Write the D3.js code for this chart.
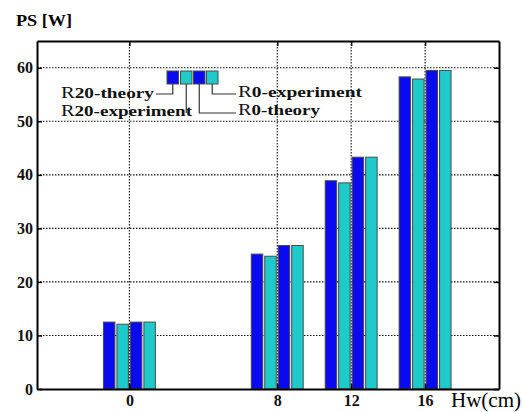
<!DOCTYPE html>
<html>
<head>
<meta charset="utf-8">
<script src="https://cdn.jsdelivr.net/npm/d3@7"></script>
<style>
  body { margin: 0; background: #fff; }
  svg text { font-family: "Liberation Serif", "Times New Roman", serif; }
</style>
</head>
<body>
<div id="chart"></div>
<script>
// chart values
const hw = [0, 8, 12, 16];
const series = ["R20-theory", "R20-experiment", "R0-theory", "R0-experiment"];
const r20Theory = [12.5, 25.2, 38.9, 58.3];
const r20Experiment = [12.1, 24.8, 38.5, 57.9];
const r0Theory = [12.5, 26.8, 43.3, 59.5];
const r0Experiment = [12.5, 26.8, 43.3, 59.5];
const yTicks = [0, 10, 20, 30, 40, 50, 60];
const xTicks = [0, 8, 12, 16];

const values = [r20Theory, r20Experiment, r0Theory, r0Experiment];
const colors = ["#0a0af0", "#1fcaca", "#0a0af0", "#1fcaca"];

const W = 522, H = 412;
const plot = {left: 37, right: 499, top: 41, bottom: 389};

const svg = d3.select("#chart").append("svg")
  .attr("width", W)
  .attr("height", H);

const x = d3.scaleLinear().domain([-5, 20]).range([plot.left, plot.right]);
const y = d3.scaleLinear().domain([0, 65]).range([plot.bottom, plot.top]);
// bar positions inside a group, in x units
const xSub = d3.scaleBand().domain(series).range([-1.405, 1.405]).paddingInner(0.15);

// grid
const grid = svg.append("g")
  .attr("stroke", "#111")
  .attr("stroke-width", 1.1)
  .attr("stroke-dasharray", "1.5,1.5");

grid.selectAll(".gy")
  .data(yTicks.filter(d => d > 0))
  .enter().append("line")
  .attr("x1", plot.left).attr("x2", plot.right)
  .attr("y1", d => y(d)).attr("y2", d => y(d));

grid.selectAll(".gx")
  .data(xTicks)
  .enter().append("line")
  .attr("y1", plot.top).attr("y2", plot.bottom)
  .attr("x1", d => x(d)).attr("x2", d => x(d));

// bars
const rows = [];
series.forEach((s, i) => {
  hw.forEach((h, j) => rows.push({s: s, i: i, hw: h, v: values[i][j]}));
});

svg.append("g").selectAll("rect")
  .data(rows)
  .enter().append("rect")
  .attr("x", d => x(d.hw + xSub(d.s)))
  .attr("y", d => y(d.v))
  .attr("width", x(xSub.bandwidth()) - x(0))
  .attr("height", d => y(0) - y(d.v))
  .attr("fill", d => colors[d.i])
  .attr("stroke", "#4a4a4a")
  .attr("stroke-width", 1);

// axes box with inward ticks
const axisLeft = d3.axisLeft(y).tickValues(yTicks).tickSizeInner(-5).tickSizeOuter(0).tickPadding(4);
const axisRight = d3.axisRight(y).tickValues(yTicks).tickSizeInner(-5).tickSizeOuter(0).tickFormat("");
const axisBottom = d3.axisBottom(x).tickValues(xTicks).tickSizeInner(-5).tickSizeOuter(0).tickPadding(6);
const axisTop = d3.axisTop(x).tickValues(xTicks).tickSizeInner(-5).tickSizeOuter(0).tickFormat("");

function styleAxis(g) {
  g.select(".domain").attr("stroke", "#000").attr("stroke-width", 2);
  g.selectAll(".tick line").attr("stroke", "#000").attr("stroke-width", 1.5);
  g.selectAll(".tick text")
    .attr("fill", "#111")
    .style("font-size", "16px")
    .style("font-weight", "bold")
    .style("font-family", "'Liberation Serif', serif");
}

svg.append("g").attr("transform", "translate(" + plot.left + ",0)").call(axisLeft).call(styleAxis);
svg.append("g").attr("transform", "translate(" + plot.right + ",0)").call(axisRight).call(styleAxis);
svg.append("g").attr("transform", "translate(0," + plot.bottom + ")").call(axisBottom).call(styleAxis);
svg.append("g").attr("transform", "translate(0," + plot.top + ")").call(axisTop).call(styleAxis);

// titles
svg.append("text")
  .attr("x", 16).attr("y", 26)
  .attr("textLength", 56).attr("lengthAdjust", "spacingAndGlyphs")
  .style("font-size", "17px").style("font-weight", "bold")
  .text("PS [W]");

svg.append("text")
  .attr("x", 451).attr("y", 407)
  .attr("textLength", 70).attr("lengthAdjust", "spacingAndGlyphs")
  .style("font-size", "20px")
  .text("Hw(cm)");

// legend
const lg = svg.append("g");
const sqX = [167, 180.5, 193.5, 206.5], sqW = 11.5, sqTop = 71, sqH = 13;

lg.selectAll("rect")
  .data(series)
  .enter().append("rect")
  .attr("x", (d, i) => sqX[i]).attr("y", sqTop)
  .attr("width", sqW).attr("height", sqH)
  .attr("fill", (d, i) => colors[i])
  .attr("stroke", "#4a4a4a");

const links = [
  {i: 0, yEnd: 94, xEnd: 156},
  {i: 1, yEnd: 113, xEnd: null},
  {i: 2, yEnd: 113, xEnd: 236},
  {i: 3, yEnd: 94, xEnd: 236}
];
lg.selectAll("path")
  .data(links)
  .enter().append("path")
  .attr("fill", "none")
  .attr("stroke", "#333")
  .attr("stroke-width", 1.2)
  .attr("d", d => {
    const cx = sqX[d.i] + sqW / 2;
    let p = "M" + cx + "," + (sqTop + sqH) + "V" + d.yEnd;
    if (d.xEnd !== null) p += "H" + d.xEnd;
    return p;
  });

const labels = [
  {i: 0, x: 154, y: 98, anchor: "end", len: 93},
  {i: 1, x: 192, y: 116, anchor: "end", len: 131},
  {i: 2, x: 238, y: 115, anchor: "start", len: 82},
  {i: 3, x: 238, y: 97, anchor: "start", len: 124}
];
const lt = lg.selectAll(".lab")
  .data(labels)
  .enter().append("text")
  .attr("x", d => d.anchor === "end" ? d.x - d.len : d.x)
  .attr("y", d => d.y)
  .attr("textLength", d => d.len)
  .attr("lengthAdjust", "spacingAndGlyphs")
  .style("font-size", "15px")
  .attr("fill", "#111");
lt.append("tspan").style("font-weight", "normal").style("font-size", "16px").text("R");
lt.append("tspan").style("font-weight", "bold").text(d => series[d.i].slice(1));
</script>
</body>
</html>
